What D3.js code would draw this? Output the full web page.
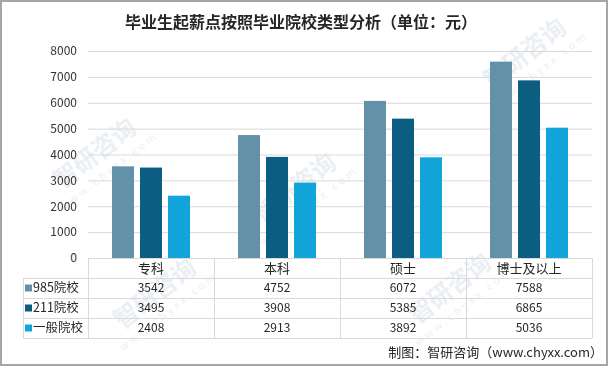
<!DOCTYPE html>
<html><head><meta charset="utf-8">
<script src="https://cdn.jsdelivr.net/npm/d3@7"></script>
<style>
html,body{margin:0;padding:0;background:#fff;}
svg{display:block;}
text{font-family:"Noto Sans CJK SC","Noto Sans",sans-serif;}
</style></head>
<body>
<svg id="chart" width="608" height="366"></svg>
<script>
const categories = ["专科", "本科", "硕士", "博士及以上"];
const seriesNames = ["985院校", "211院校", "一般院校"];
const values985 = [3542, 4752, 6072, 7588];
const values211 = [3495, 3908, 5385, 6865];
const valuesGen = [2408, 2913, 3892, 5036];
const yTicks = [0, 1000, 2000, 3000, 4000, 5000, 6000, 7000, 8000];
const colors = ["#6391a9", "#0b5d82", "#12a5d9"];
const title = "毕业生起薪点按照毕业院校类型分析（单位：元）";
const footer = "制图：智研咨询（www.chyxx.com）";

(function () {
const seriesValues = [values985, values211, valuesGen];
const svg = d3.select("#chart");
const W = 608, H = 366;
const pLeft = 88, pRight = 592, pTop = 51, pBottom = 258;

// border
svg.append("rect").attr("x", 1).attr("y", 1).attr("width", W - 2).attr("height", H - 2)
  .attr("fill", "#fff").attr("stroke", "#a6a6a6").attr("stroke-width", 2);

// watermarks (faint)
const wm = svg.append("g").attr("fill", "#e3e9ef").attr("opacity", 0.75);
[[100, 160], [300, 195], [530, 60], [160, 300], [455, 295]].forEach(([x, yy]) => {
  const g = wm.append("g").attr("transform", `translate(${x},${yy}) rotate(-38)`);
  g.append("text").attr("font-size", 24).attr("font-weight", "bold").attr("text-anchor", "middle").text("智研咨询");
  g.append("text").attr("y", 18).attr("font-size", 11).attr("text-anchor", "middle").attr("letter-spacing", 3).text("www.chyxx.com");
});

const x0 = d3.scaleBand().domain(categories).range([pLeft, pRight]).padding(0);
const x1 = d3.scaleBand().domain(seriesNames).range([0, 78]).paddingInner(6 / 28).paddingOuter(0);
const y = d3.scaleLinear().domain([0, 8000]).range([pBottom, pTop]);

// title
svg.append("text").attr("x", 301).attr("y", 28).attr("text-anchor", "middle")
  .attr("font-size", 16).attr("font-weight", "bold").attr("fill", "#262626").text(title);

// gridlines
svg.append("g").selectAll("line").data(yTicks.filter(d => d > 0)).join("line")
  .attr("x1", pLeft).attr("x2", pRight).attr("y1", d => y(d) + 0.5).attr("y2", d => y(d) + 0.5)
  .attr("stroke", "#d9d9d9").attr("stroke-width", 1);

// y axis labels
const yAxis = d3.axisLeft(y).tickValues(yTicks).tickSize(0).tickPadding(11).tickFormat(d3.format("d"));
const ya = svg.append("g").attr("transform", `translate(${pLeft},0)`).call(yAxis);
ya.select(".domain").remove();
ya.selectAll("text").attr("font-size", 12).attr("fill", "#333")
  .attr("font-family", '"Noto Sans","Noto Sans CJK SC",sans-serif');

// bars
const off = (x0.bandwidth() - 78) / 2;
categories.forEach((c, ci) => {
  seriesNames.forEach((s, si) => {
    svg.append("rect")
      .attr("x", x0(c) + off + x1(s))
      .attr("y", y(seriesValues[si][ci]))
      .attr("width", x1.bandwidth())
      .attr("height", y(0) - y(seriesValues[si][ci]))
      .attr("fill", colors[si]);
  });
});

// data table
const tableLeft = 23, rowH = 20, catTop = pBottom;
const rowTops = [catTop + rowH, catTop + 2 * rowH, catTop + 3 * rowH];
const tbl = svg.append("g").attr("stroke", "#d9d9d9").attr("stroke-width", 1).attr("fill", "none");
tbl.append("line").attr("x1", pLeft).attr("x2", pRight).attr("y1", catTop + 0.5).attr("y2", catTop + 0.5);
[rowTops[0], rowTops[1], rowTops[2], catTop + 4 * rowH].forEach(yy => {
  tbl.append("line").attr("x1", tableLeft).attr("x2", pRight).attr("y1", yy + 0.5).attr("y2", yy + 0.5);
});
tbl.append("line").attr("x1", tableLeft + 0.5).attr("x2", tableLeft + 0.5).attr("y1", rowTops[0]).attr("y2", catTop + 4 * rowH);
categories.forEach(c => {
  const xx = Math.round(x0(c)) + 0.5;
  tbl.append("line").attr("x1", xx).attr("x2", xx).attr("y1", catTop).attr("y2", catTop + 4 * rowH);
});
tbl.append("line").attr("x1", pRight + 0.5).attr("x2", pRight + 0.5).attr("y1", catTop).attr("y2", catTop + 4 * rowH);

// category labels
svg.append("g").selectAll("text").data(categories).join("text")
  .attr("x", d => x0(d) + x0.bandwidth() / 2).attr("y", catTop + rowH / 2 + 1)
  .attr("dominant-baseline", "middle").attr("text-anchor", "middle")
  .attr("font-size", 13).attr("fill", "#262626").text(d => d);

// series rows
seriesNames.forEach((s, si) => {
  const cy = rowTops[si] + rowH / 2 + 1;
  svg.append("rect").attr("x", 25).attr("y", cy - 4.5).attr("width", 7).attr("height", 7).attr("fill", colors[si]);
  svg.append("text").attr("x", 33).attr("y", cy).attr("dominant-baseline", "middle")
    .attr("font-size", 12.5).attr("fill", "#262626").text(s);
  svg.append("g").selectAll("text").data(seriesValues[si]).join("text")
    .attr("x", (d, i) => x0(categories[i]) + x0.bandwidth() / 2).attr("y", cy)
    .attr("dominant-baseline", "middle").attr("text-anchor", "middle")
    .attr("font-size", 12).attr("fill", "#262626")
    .attr("font-family", '"Noto Sans","Noto Sans CJK SC",sans-serif').text(d => d);
});

// footer
svg.append("text").attr("x", 603).attr("y", 357).attr("text-anchor", "end")
  .attr("font-size", 13).attr("fill", "#262626").text(footer);
})();
</script>
</body></html>
